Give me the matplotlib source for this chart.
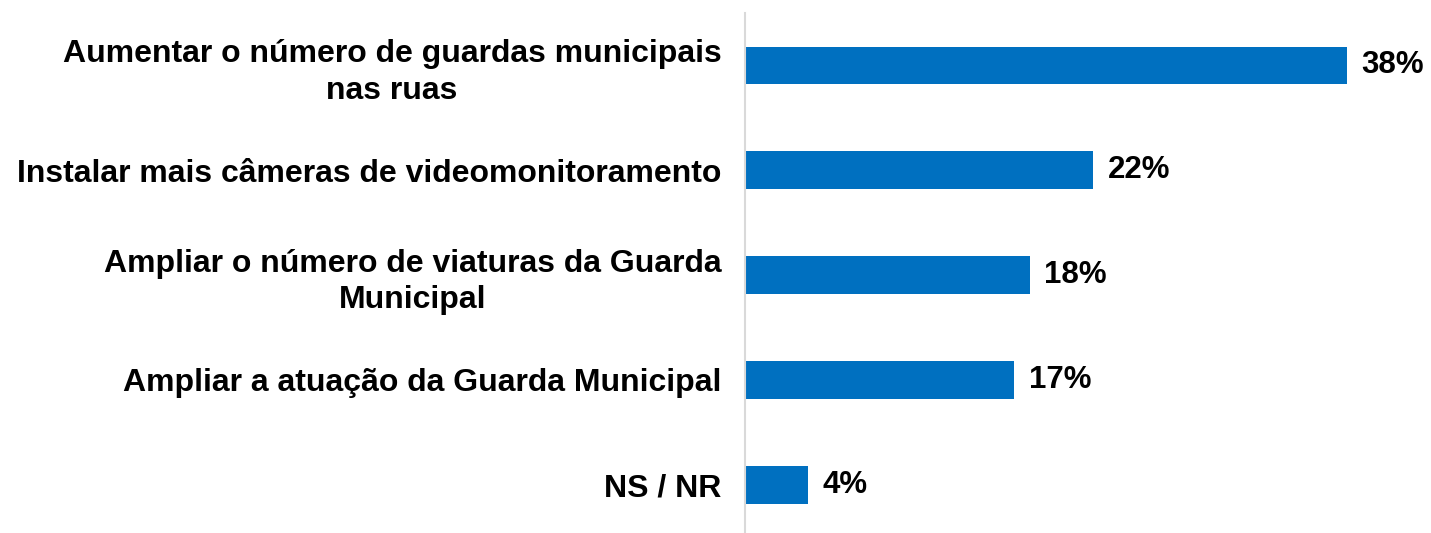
import matplotlib.pyplot as plt

categories = [
    "Aumentar o número de guardas municipais\nnas ruas",
    "Instalar mais câmeras de videomonitoramento",
    "Ampliar o número de viaturas da Guarda\nMunicipal",
    "Ampliar a atuação da Guarda Municipal",
    "NS / NR",
]
values = [38, 22, 18, 17, 4]
value_labels = ["38%", "22%", "18%", "17%", "4%"]

plt.rcParams['font.family'] = ['Liberation Sans', 'DejaVu Sans']

fig = plt.figure(figsize=(14.31, 5.33), dpi=100)
ax = fig.add_axes([745 / 1431, 0.0, 1 - 745 / 1431, 1 - 13 / 533])

y = list(range(len(categories)))
ax.barh(y, values, height=0.36, color='#0070C0')
for yi, v, lab in zip(y, values, value_labels):
    ax.text(v + 0.9, yi, lab, va='center', ha='left', fontsize=22.5, fontweight='bold')

ax.set_xlim(0, 686 / 15.84)
ax.set_ylim(4.46, -0.5)
ax.set_yticks(y)
ax.set_yticklabels(categories, fontsize=23, fontweight='bold',
                   multialignment='center', linespacing=1.3)
ax.tick_params(axis='y', length=0, pad=17)
ax.set_xticks([])
for s in ['top', 'right', 'bottom']:
    ax.spines[s].set_visible(False)
ax.spines['left'].set_color('#D9D9D9')
ax.spines['left'].set_linewidth(1.5)

fig.savefig('out.png', dpi=100)
